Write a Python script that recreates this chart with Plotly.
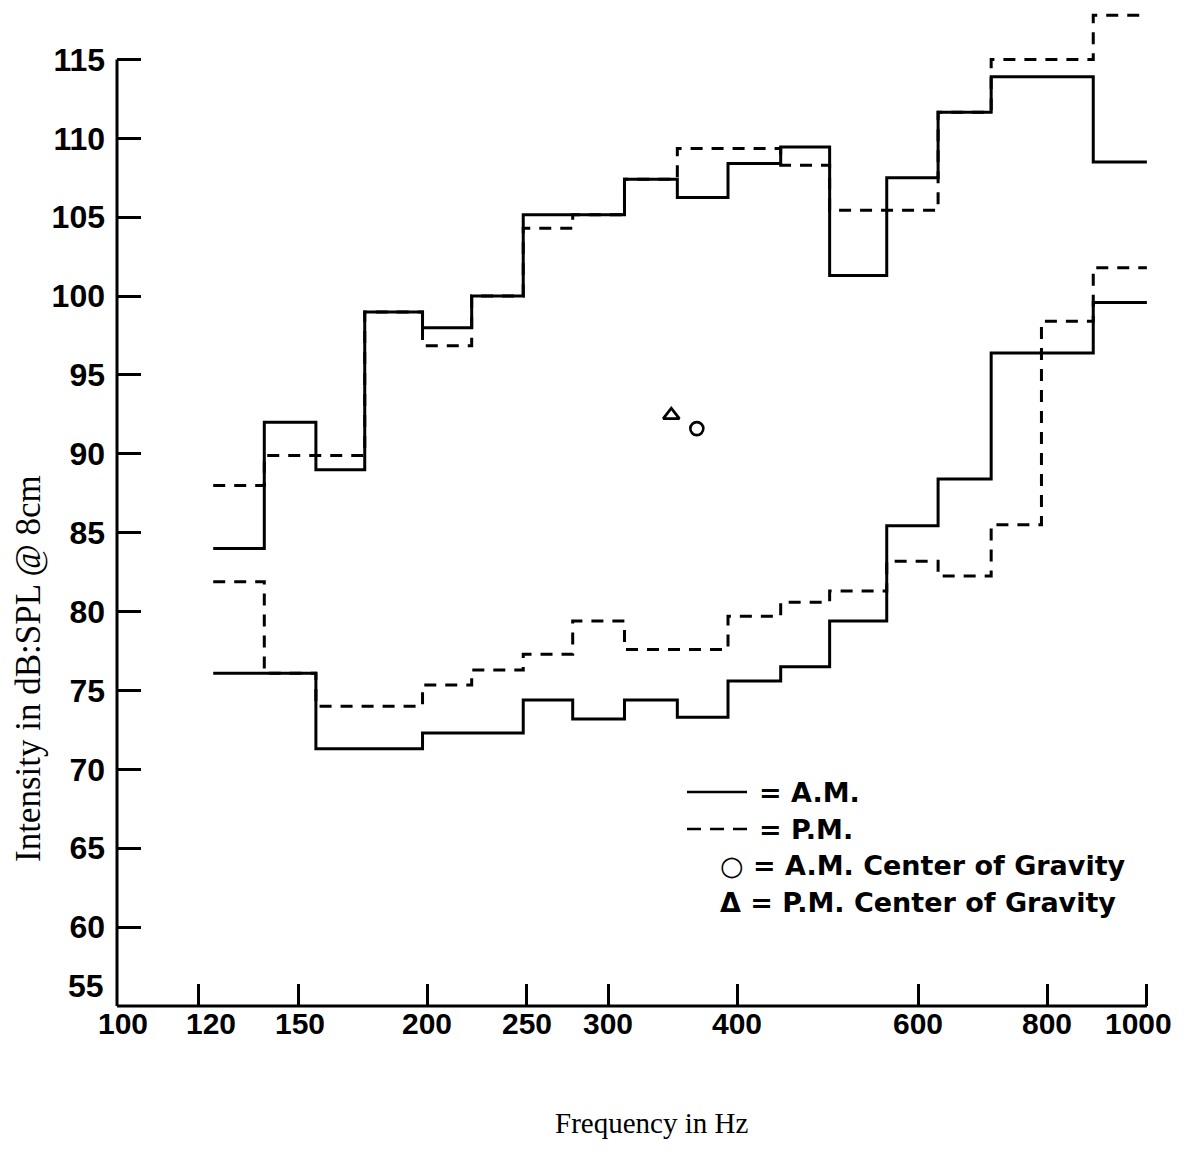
import math
import plotly.graph_objects as go

# ---------------- data ----------------
band_edges_hz = [124, 139, 156, 174, 198, 221, 248, 277, 311, 350, 392,
                 441, 492, 559, 627, 706, 790, 887, 1000]

am_upper = [84, 92, 89, 99, 98, 100, 105.15, 105.15, 107.4, 106.25, 108.4,
            109.45, 101.3, 107.5, 111.65, 113.9, 113.9, 108.5]
pm_upper = [88, 89.9, 89.9, 99, 96.85, 100, 104.3, 105.15, 107.4, 109.35,
            109.35, 108.3, 105.45, 105.45, 111.65, 115.0, 115.0, 117.8]
am_lower = [76.1, 76.1, 71.3, 71.3, 72.3, 72.3, 74.4, 73.2, 74.4, 73.3,
            75.6, 76.5, 79.4, 85.45, 88.4, 96.4, 96.4, 99.6]
pm_lower = [81.9, 76.1, 74.0, 74.0, 75.35, 76.3, 77.3, 79.4, 77.6, 77.6,
            79.7, 80.6, 81.3, 83.2, 82.25, 85.5, 98.4, 101.8]

am_cog_freq = [365.6]
am_cog_level = [91.6]
pm_cog_freq = [345.3]
pm_cog_level = [92.45]

x_tick_vals = [100, 120, 150, 200, 250, 300, 400, 600, 800, 1000]
x_tick_text = ["100", "120", "150", "200", "250", "300", "400", "600", "800", "1000"]
y_tick_vals = [60, 65, 70, 75, 80, 85, 90, 95, 100, 105, 110, 115]
y_bottom_label = "55"

legend_texts = ["= A.M.", "= P.M.", "\u25cb = A.M. Center of Gravity",
                "\u0394 = P.M. Center of Gravity"]

# ---------------- layout geometry ----------------
W, H = 1187, 1167
OFF = 7                      # page offset of the figure inside the html body
AX_LEFT_PAGE, AX_BOTTOM_PAGE = 116, 1005
PLOT_W = 1034
PLOT_H = 997
ML = AX_LEFT_PAGE - OFF
MT = AX_BOTTOM_PAGE - OFF - PLOT_H
MR = W - ML - PLOT_W
MB = H - MT - PLOT_H
X_MIN, X_MAX = 100, 1000
Y_MIN, Y_TOP_AXIS, Y_MAX = 55, 115, 118.2
x_range = [math.log10(X_MIN), math.log10(X_MAX) + 0.004]


def px_x(px):
    return (px - AX_LEFT_PAGE) / PLOT_W


def px_y(py):
    return (AX_BOTTOM_PAGE - py) / PLOT_H


def xfrac(v):
    return (math.log10(v) - x_range[0]) / (x_range[1] - x_range[0])


def yfrac(v):
    return (v - Y_MIN) / (Y_MAX - Y_MIN)


def step(values):
    return band_edges_hz, list(values) + [values[-1]]


fig = go.Figure()
DASH = "12px,9px"
for vals, dash in [(pm_upper, DASH), (pm_lower, DASH), (am_upper, "solid"), (am_lower, "solid")]:
    xs, ys = step(vals)
    fig.add_trace(go.Scatter(x=xs, y=ys, mode="lines", line_shape="hv",
                             line=dict(color="black", width=3, dash=dash),
                             showlegend=False, hoverinfo="skip"))

fig.add_trace(go.Scatter(x=am_cog_freq, y=am_cog_level, mode="markers",
                         marker=dict(symbol="circle-open", size=13, color="black",
                                     line=dict(width=2.6, color="black")),
                         showlegend=False))
fig.add_trace(go.Scatter(x=pm_cog_freq, y=pm_cog_level, mode="markers",
                         marker=dict(symbol="triangle-up-open", size=14, color="black",
                                     line=dict(width=2.8, color="black")),
                         showlegend=False))

tick_font = dict(family="Liberation Sans, Arial, sans-serif", size=32, color="black", weight="bold")

fig.update_xaxes(type="log", range=x_range, showgrid=False, zeroline=False, showline=False,
                 tickvals=x_tick_vals[1:], ticks="inside", ticklen=22, tickwidth=3,
                 tickcolor="black", showticklabels=False)
fig.update_yaxes(range=[Y_MIN, Y_MAX], showgrid=False, zeroline=False, showline=False,
                 tickvals=y_tick_vals, ticks="inside", ticklen=24, tickwidth=3,
                 tickcolor="black", tickfont=tick_font, ticklabelstandoff=11)

shapes = [
    # x axis line
    dict(type="line", xref="paper", yref="paper", x0=xfrac(X_MIN), x1=xfrac(X_MAX),
         y0=0, y1=0, line=dict(color="black", width=3)),
    # y axis line
    dict(type="line", xref="paper", yref="paper", x0=0, x1=0,
         y0=0, y1=yfrac(Y_TOP_AXIS), line=dict(color="black", width=3)),
    # legend samples
    dict(type="line", xref="paper", yref="paper", x0=px_x(686), x1=px_x(746),
         y0=px_y(791), y1=px_y(791), line=dict(color="black", width=2.5)),
    dict(type="line", xref="paper", yref="paper", x0=px_x(686), x1=px_x(746),
         y0=px_y(828), y1=px_y(828), line=dict(color="black", width=2.5, dash="14px,9px")),
]

annotations = []
x_shifts = {100: 6, 120: 12, 150: 2, 1000: -8}
for v, t in zip(x_tick_vals, x_tick_text):
    annotations.append(dict(x=xfrac(v), y=0, xref="paper", yref="paper", text=t,
                            showarrow=False, xanchor="center", yanchor="middle",
                            xshift=x_shifts.get(v, 0), yshift=-17,
                            font=dict(family="Liberation Sans, Arial, sans-serif", size=30,
                                      color="black", weight="bold")))
annotations.append(dict(x=0, y=0, xref="paper", yref="paper", text=y_bottom_label,
                        showarrow=False, xanchor="right", yanchor="middle",
                        xshift=-11, yshift=20, font=tick_font))

legend_font = dict(family="DejaVu Sans, sans-serif", size=27, color="black", weight="bold")
legend_pos = [(756, 791), (756, 828), (717, 864), (717, 901)]
for txt, (lx, ly) in zip(legend_texts, legend_pos):
    annotations.append(dict(x=px_x(lx), y=px_y(ly), xref="paper", yref="paper", text=txt,
                            showarrow=False, xanchor="left", yanchor="middle", font=legend_font))

serif_x = dict(family="Liberation Serif, Times New Roman, serif", size=29, color="black")
serif_y = dict(family="Liberation Serif, Times New Roman, serif", size=35, color="black")
annotations.append(dict(x=px_x(650), y=px_y(1122), xref="paper", yref="paper",
                        text="Frequency in Hz", showarrow=False, xanchor="center",
                        yanchor="middle", font=serif_x))
annotations.append(dict(x=px_x(27), y=px_y(668), xref="paper", yref="paper",
                        text="Intensity in dB:SPL @ 8cm", showarrow=False, textangle=-90,
                        xanchor="center", yanchor="middle", font=serif_y))

fig.update_layout(width=W, height=H, margin=dict(l=ML, r=MR, t=MT, b=MB),
                  plot_bgcolor="white", paper_bgcolor="white",
                  shapes=shapes, annotations=annotations, showlegend=False)

fig.write_html("out.html")
